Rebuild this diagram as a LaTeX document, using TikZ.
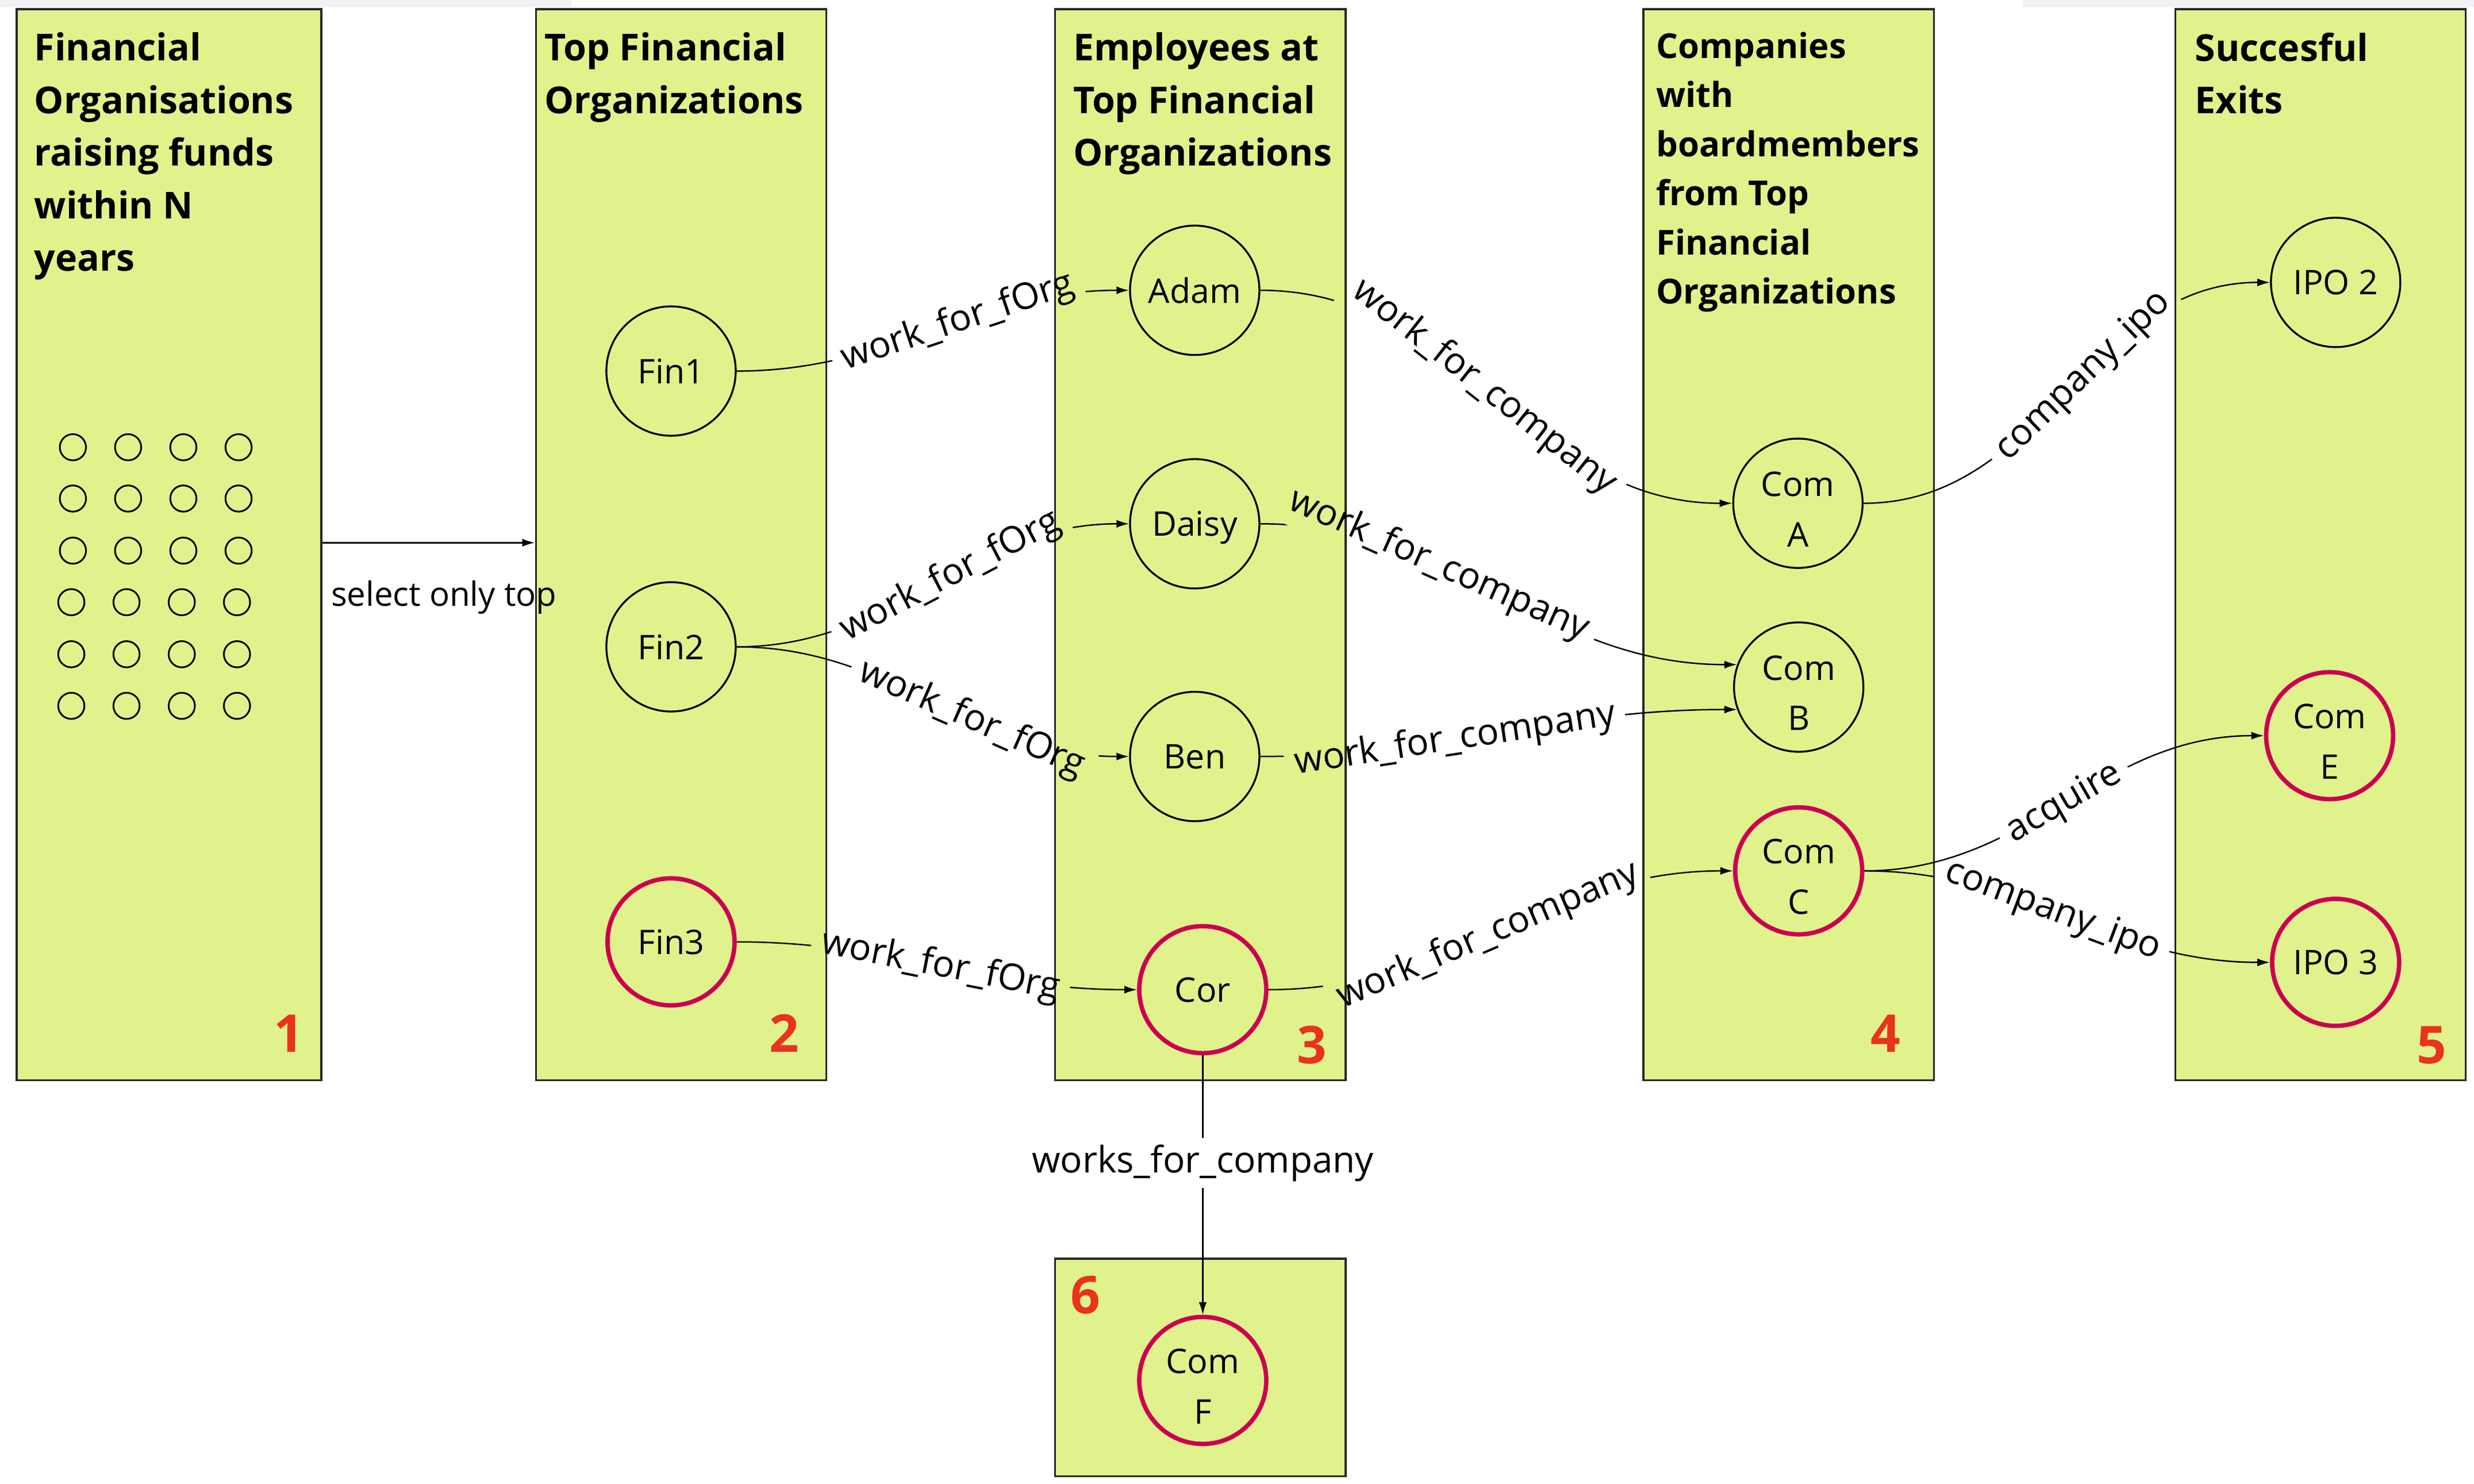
\documentclass[tikz,border=0pt]{standalone}
\usepackage{fontspec}
\setmainfont{Open Sans}
\usetikzlibrary{arrows.meta}
\definecolor{boxgreen}{RGB}{224,242,140}
\definecolor{nodered}{RGB}{204,0,82}
\definecolor{numred}{RGB}{234,50,30}
\definecolor{boxborder}{RGB}{40,40,40}
\definecolor{topshade}{RGB}{242,242,245}
\tikzset{
 box/.style={draw=boxborder, line width=1.4pt, fill=boxgreen, anchor=north west, inner sep=0pt},
 ent/.style={circle, draw=black, line width=1.2pt, minimum size=82pt, inner sep=0pt, align=center, text depth=0pt, font=\fontsize{21.5}{32}\selectfont},
 hot/.style={ent, draw=nodered, line width=2.8pt, minimum size=80.5pt},
 ttl/.style={anchor=base west, inner sep=0pt},
 num/.style={text=numred, font=\fontsize{33}{36}\selectfont\bfseries, inner sep=0pt, anchor=base},
 conn/.style={line width=0.9pt, -{Latex[length=8pt,width=5pt]}},
 lab/.style={font=\fontsize{23.2}{26}\selectfont, inner xsep=6pt, inner ysep=4pt},
 dot/.style={line width=1.1pt, draw=black},
}
\newcommand{\ttltab}[1]{\begin{tabular}[t]{@{}l@{}}#1\end{tabular}}
\newcommand{\tallstrut}{\rule{0pt}{23pt}}
\newcommand{\lconn}[6]{%
  \path (#1) to[#3] node[lab,#5] (#4) {#6} (#2);
  \begin{scope}[even odd rule]
    \clip (-10,-10) rectangle (1600,960)
      (#4.north west) -- (#4.north east) -- (#4.south east) -- (#4.south west) -- cycle;
    \draw[conn] (#1) to[#3] (#2);
  \end{scope}}
\begin{document}
\begin{tikzpicture}[x=1pt,y=-1pt]
\useasboundingbox (0,0) rectangle (1568,940.6);
\fill[white] (0,0) rectangle (1568,940.6);
\fill[topshade] (0,0) rectangle (362,4.5);
\fill[topshade] (1282,0) rectangle (1568,4.5);
% boxes
\node[box, minimum width=193pt, minimum height=679pt] (b1) at (10,5) {};
\node[box, minimum width=184pt, minimum height=679pt] (b2) at (339,5) {};
\node[box, minimum width=184pt, minimum height=679pt] (b3) at (668,5) {};
\node[box, minimum width=184pt, minimum height=679pt] (b4) at (1041,5) {};
\node[box, minimum width=184pt, minimum height=679pt] (b5) at (1378,5) {};
\node[box, minimum width=184pt, minimum height=138pt] (b6) at (668,797) {};
% titles
\begingroup
\fontsize{23.5}{33.3}\selectfont\bfseries
\node[ttl, font=\fontsize{23.5}{33.3}\selectfont\bfseries] (t1) at (21.6,38.6) {\ttltab{Financial\\Organisations\\raising funds\\within N\\years}};
\node[ttl, font=\fontsize{23.5}{33.3}\selectfont\bfseries] (t2) at (345,38.6) {\ttltab{Top Financial\\Organizations}};
\node[ttl, font=\fontsize{23.5}{33.3}\selectfont\bfseries] (t3) at (680,38.6) {\ttltab{Employees at\\Top Financial\\Organizations}};
\node[ttl, font=\fontsize{23.5}{33.3}\selectfont\bfseries] (t5) at (1391,38.8) {\ttltab{Succesful\\Exits}};
\endgroup
\begingroup
\fontsize{21.8}{31.1}\selectfont\bfseries
\node[ttl, font=\fontsize{21.8}{31.1}\selectfont\bfseries] (t4) at (1049.5,37) {\ttltab{Companies\\with\\boardmembers\\from Top\\Financial\\Organizations}};
\endgroup
% grid of small circles
\foreach \y/\dx in {283.5/0.5,316/0.5,349/0.5,381.7/-0.5,414.7/-0.5,447.4/-0.5}
  \foreach \x in {45.7,80.7,115.7,150.7}
    \draw[dot] (\x+\dx,\y) circle[radius=8.3];
% entity nodes
\node[ent] (fin1) at (425.3,235.2) {Fin1};
\node[ent] (fin2) at (425.3,410) {Fin2};
\node[hot] (fin3) at (425.3,597) {Fin3};
\node[ent] (adam) at (757.2,184) {Adam};
\node[ent] (daisy) at (757.2,332) {Daisy};
\node[ent] (ben) at (757.2,479.5) {Ben};
\node[hot] (cor) at (762.3,627.3) {Cor};
\node[ent] (coma) at (1139.5,319) {\tallstrut Com\\A};
\node[ent] (comb) at (1140,435.5) {\tallstrut Com\\B};
\node[hot] (comc) at (1140,552) {\tallstrut Com\\C};
\node[ent] (ipo2) at (1480.3,179) {IPO 2};
\node[hot] (come) at (1476.5,466.3) {\tallstrut Com\\E};
\node[hot] (ipo3) at (1480.3,610) {IPO 3};
\node[hot] (comf) at (762.3,875) {\tallstrut Com\\F};
% connectors
\draw[conn] (b1.east |- 0,344) -- (b2.west |- 0,344)
  node[pos=0, anchor=base west, font=\fontsize{21.2}{26}\selectfont, inner sep=0pt, xshift=5pt, yshift=-40pt] (sel) {select only top};
\lconn{fin1.east}{adam.west}{out=0,in=180}{l1}{sloped,pos=0.57}{work\_for\_fOrg}
\lconn{fin2.east}{daisy.west}{out=0,in=180}{l2}{sloped,pos=0.55}{work\_for\_fOrg}
\lconn{fin2.east}{ben.west}{out=0,in=180}{l3}{sloped,pos=0.61}{work\_for\_fOrg}
\lconn{fin3.east}{cor.west}{out=0,in=180}{l4}{sloped,pos=0.51}{work\_for\_fOrg}
\lconn{adam.east}{coma.west}{out=0,in=180}{l5}{sloped,pos=0.47}{work\_for\_company}
\lconn{daisy.east}{comb.160}{out=0,in=180}{l6}{sloped,pos=0.36}{work\_for\_company}
\lconn{ben.east}{comb.200}{out=0,in=180}{l7}{sloped,pos=0.4}{work\_for\_company}
\lconn{cor.east}{comc.west}{out=0,in=180}{l8}{sloped,pos=0.47}{work\_for\_company}
\lconn{coma.east}{ipo2.west}{out=0,in=180}{l9}{sloped,pos=0.55}{company\_ipo}
\lconn{comc.east}{come.west}{out=0,in=180}{l10}{sloped,pos=0.5}{acquire}
\lconn{comc.east}{ipo3.west}{out=0,in=180}{l11}{sloped,pos=0.46}{company\_ipo}
\lconn{cor.south}{comf.north}{}{l12}{pos=0.415}{works\_for\_company}
% numbers
\node[num] (n1) at (183,667) {1};
\node[num] (n2) at (497,667) {2};
\node[num] (n3) at (831.5,674) {3};
\node[num] (n4) at (1195,667) {4};
\node[num] (n5) at (1541,674) {5};
\node[num] (n6) at (688,832.5) {6};
\end{tikzpicture}
\end{document}
